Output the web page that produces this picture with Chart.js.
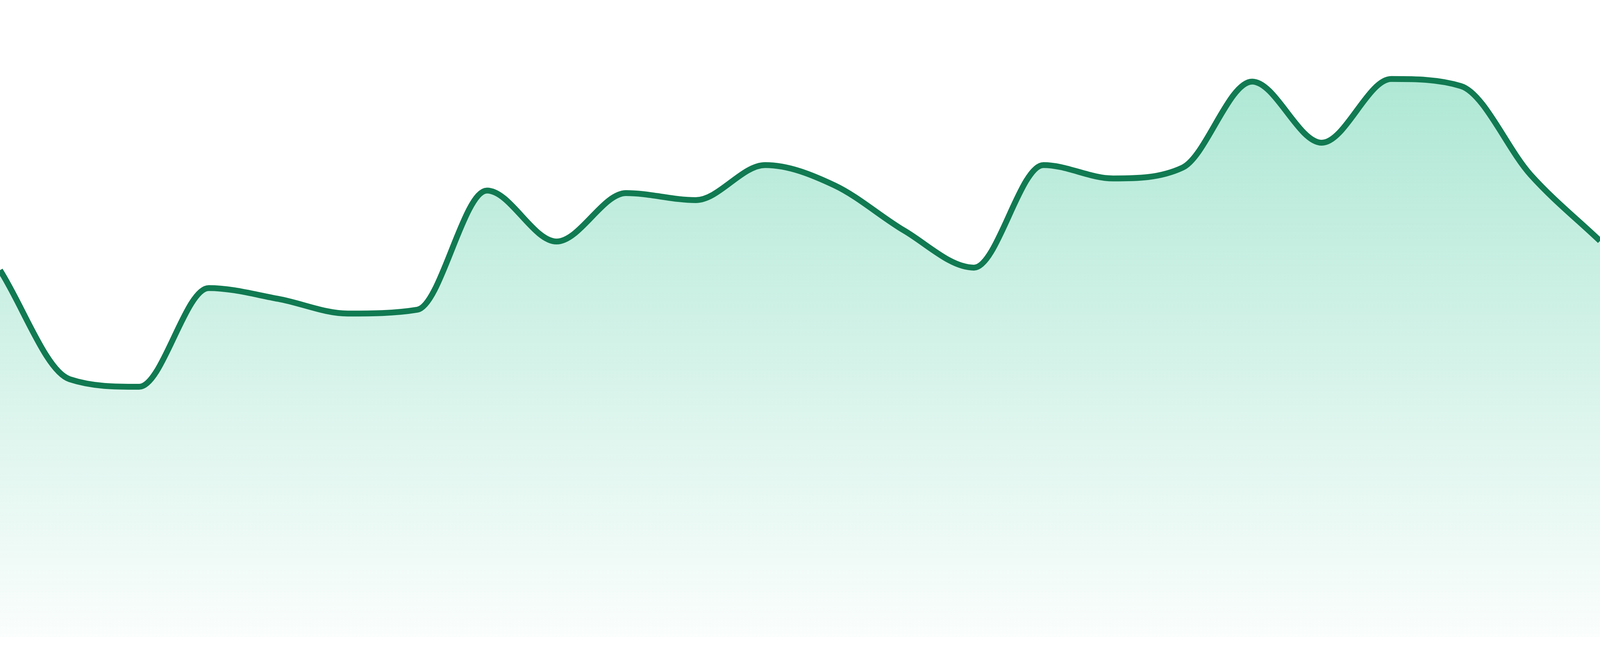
<!DOCTYPE html>
<html lang="en">
<head>
  <meta charset="UTF-8">
  <title>Sparkline area</title>
  <script src="https://cdn.jsdelivr.net/npm/chart.js"></script>
  <style>
    html, body {
      margin: 0;
      padding: 0;
      background: #ffffff;
      overflow: hidden;
    }
    .chart-container {
      position: relative;
      width: 100vw;
      height: 100vh;
    }
  </style>
</head>
<body>
  <div class="chart-container">
    <canvas id="sparkChart"></canvas>
  </div>

  <script>
    // Categories (no axis is shown in the reference)
    const labels = ["01", "02", "03", "04", "05", "06", "07", "08", "09", "10", "11", "12",
                    "13", "14", "15", "16", "17", "18", "19", "20", "21", "22", "23", "24"];

    // Series values (scale 0-100)
    const values = [57.6, 40.5, 39.3, 54.8, 53.1, 50.8, 51.4, 70.1, 62.1, 69.7, 68.6, 74.1,
                    70.9, 63.8, 58.0, 74.1, 72.0, 73.7, 87.2, 77.6, 87.6, 86.5, 72.6, 62.2];

    const yMin = 0;
    const yMax = 100;

    // vertical gradient under the line
    function areaFill(context) {
      const area = context.chart.chartArea;
      if (!area) return 'rgba(16, 185, 129, 0.2)';
      const g = context.chart.ctx.createLinearGradient(0, area.top, 0, area.bottom);
      g.addColorStop(0, 'rgba(16, 185, 129, 0.38)');
      g.addColorStop(1, 'rgba(16, 185, 129, 0.02)');
      return g;
    }

    const ctx = document.getElementById('sparkChart').getContext('2d');
    const sparkChart = new Chart(ctx, {
      type: 'line',
      data: {
        labels: labels,
        datasets: [{
          data: values,
          borderColor: '#117a52',
          borderWidth: (c) => Math.max(2, c.chart.height / 112),
          backgroundColor: areaFill,
          fill: 'start',
          cubicInterpolationMode: 'monotone',
          pointRadius: 0,
          pointHoverRadius: 0
        }]
      },
      options: {
        responsive: true,
        maintainAspectRatio: false,
        animation: false,
        layout: {
          padding: (c) => ({ top: 0, right: 0, bottom: Math.round(c.chart.height * 0.0286), left: 0 })
        },
        scales: {
          x: { display: false, offset: false },
          y: { display: false, min: yMin, max: yMax }
        },
        plugins: {
          legend: { display: false },
          tooltip: { enabled: false }
        }
      }
    });
  </script>
</body>
</html>
